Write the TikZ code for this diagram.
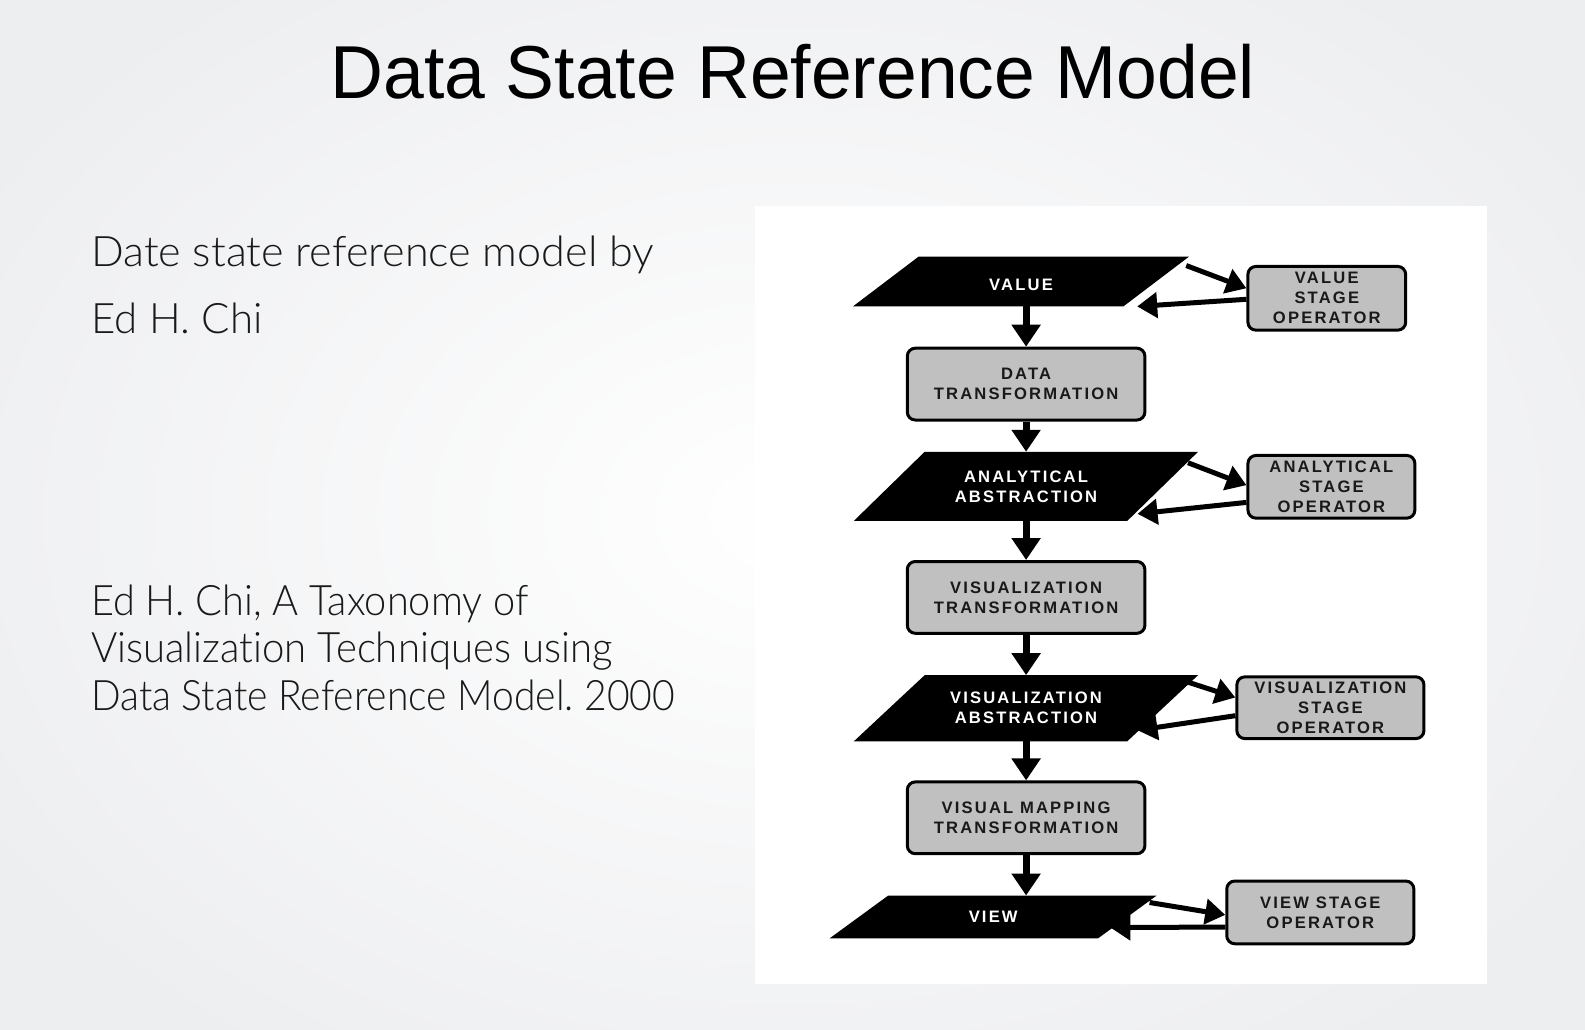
\documentclass[tikz,border=0pt]{standalone}
\usepackage{fontspec}
\setmainfont{Liberation Sans}
\newfontfamily\lightfont{Lato Light}[Ligatures={NoCommon,NoRequired,NoContextual,NoRare}]
\newfontfamily\boxfont{Liberation Sans}[LetterSpace=13]
\usetikzlibrary{arrows.meta,calc,backgrounds}
\definecolor{opgray}{RGB}{192,192,192}
\definecolor{boxtext}{RGB}{25,25,25}
\definecolor{bgedge}{RGB}{237,238,240}
\definecolor{lefttext}{RGB}{25,25,25}
\newcommand\paraFill[2]{%
  \begin{scope}[on background layer]
    \fill[black] ($(#1.north west)+(#2,0)$) -- ($(#1.north east)+(#2,0)$) --
      ($(#1.south east)-(#2,0)$) -- ($(#1.south west)-(#2,0)$) -- cycle;
  \end{scope}}
\frenchspacing
\begin{document}
\begin{tikzpicture}[x=1pt,y=-1pt,
  boxfnt/.style={font=\boxfont\bfseries\fontsize{16.6}{20}\selectfont},
  proc/.style={boxfnt, draw=black, line width=3pt, fill=opgray, rounded corners=8pt,
    minimum width=237.6pt, minimum height=71.8pt, align=center, text=boxtext, inner sep=0pt},
  paranode/.style={boxfnt, text=white, align=center, inner sep=0pt},
  down/.style={-{Triangle[length=22pt,width=28pt]}, line width=7pt},
  side/.style={-{Triangle[length=20pt,width=25pt]}, line width=5pt},
  lt/.style={font=\lightfont\fontsize{42}{50}\selectfont, text=lefttext, anchor=base west, inner sep=0pt}
]
\useasboundingbox (0,0) rectangle (1585,1030);
\begin{scope}[on background layer]
  \shade[inner color=white, outer color=bgedge] (-150,-150) rectangle (1735,1180);
  \fill[white] (755,206) rectangle (1487,984);
\end{scope}

% title
\node[anchor=base, font=\fontsize{75}{90}\selectfont, inner sep=0pt] (title) at (793,98.5)
  {\scalebox{0.977}[1]{Data State Reference Model}};

% left texts
\node[lt] (l1) at (91,266) {\scalebox{1.027}[1]{Date state reference model by}};
\node[lt] (l2) at (91,333.6) {Ed H. Chi};
\node[lt] (r1) at (91,615) {\scalebox{0.945}[1]{Ed H. Chi, A Taxonomy of}};
\node[lt] (r2) at (91,662) {\scalebox{0.955}[1]{Visualization Techniques using}};
\node[lt] (r3) at (91,710) {\scalebox{0.93}[1]{Data State Reference Model. 2000}};

% data states (parallelograms)
\node[paranode, minimum width=270pt, minimum height=49.5pt] (value) at (1021,281.5) {\raisebox{-3pt}[\height][\depth]{VALUE}};
\paraFill{value}{32.9}
\node[paranode, minimum width=273pt, minimum height=68.7pt] (an) at (1026,486.3) {ANALYTICAL\\ABSTRACTION};
\paraFill{an}{35.4}
\node[paranode, minimum width=273pt, minimum height=65.7pt] (va) at (1026,708.2) {VISUALIZATION\\ABSTRACTION};
\paraFill{va}{35.4}
\node[paranode, minimum width=268pt, minimum height=42.4pt] (view) at (993.2,916.9) {VIEW};
\paraFill{view}{29.3}

% transformations
\node[proc] (dt) at (1026.1,384.1) {DATA\\TRANSFORMATION};
\node[proc] (vt) at (1026.1,597.4) {VISUALIZATION\\TRANSFORMATION};
\node[proc] (vmt) at (1026.1,817.8) {VISUAL MAPPING\\TRANSFORMATION};

% operators
\node[proc, minimum width=157.8pt, minimum height=63.7pt] (vso) at (1326.8,298.3) {VALUE\\STAGE\\OPERATOR};
\node[proc, minimum width=166.9pt, minimum height=62.7pt] (aso) at (1331.4,486.8) {ANALYTICAL\\STAGE\\OPERATOR};
\node[proc, minimum width=187.1pt, minimum height=61.7pt] (vso2) at (1330.4,707.7) {VISUALIZATION\\STAGE\\OPERATOR};
\node[proc, minimum width=187.1pt, minimum height=62.7pt] (wso) at (1320.3,912.4) {VIEW STAGE\\OPERATOR};

% pipeline arrows
\draw[down] (dt.north |- value.south) -- (dt.north);
\draw[down] (dt.south) -- (dt.south |- an.north);
\draw[down] (an.south -| vt.north) -- (vt.north);
\draw[down] (vt.south) -- (vt.south |- va.north);
\draw[down] (va.south -| vmt.north) -- (vmt.north);
\draw[down] (vmt.south) -- (vmt.south |- view.north);

% operator loops
\draw[side] ($(value.north east)+(30,9)$) -- ($(vso.west)+(0,-10)$);
\draw[side] ($(vso.west)+(0,1)$) -- ($(value.south east)+(-19,0)$);
\draw[side] ($(an.north east)+(25.3,11)$) -- ($(aso.west)+(0,-1.6)$);
\draw[side] ($(aso.west)+(0,15.6)$) -- ($(an.south east)+(-25.2,-7)$);
\draw[side] ($(va.north east)+(25.3,7)$) -- ($(vso2.west)+(0,-10.2)$);
\draw[side] ($(vso2.west)+(0,8)$) -- ($(va.south east)+(-25.2,-11)$);
\draw[side] ($(view.north east)+(22.2,7)$) -- ($(wso.west)+(0,2.5)$);
\draw[side] ($(wso.west)+(0,14.6)$) -- ($(view.south east)+(-17,-10.7)$);
\end{tikzpicture}
\end{document}
